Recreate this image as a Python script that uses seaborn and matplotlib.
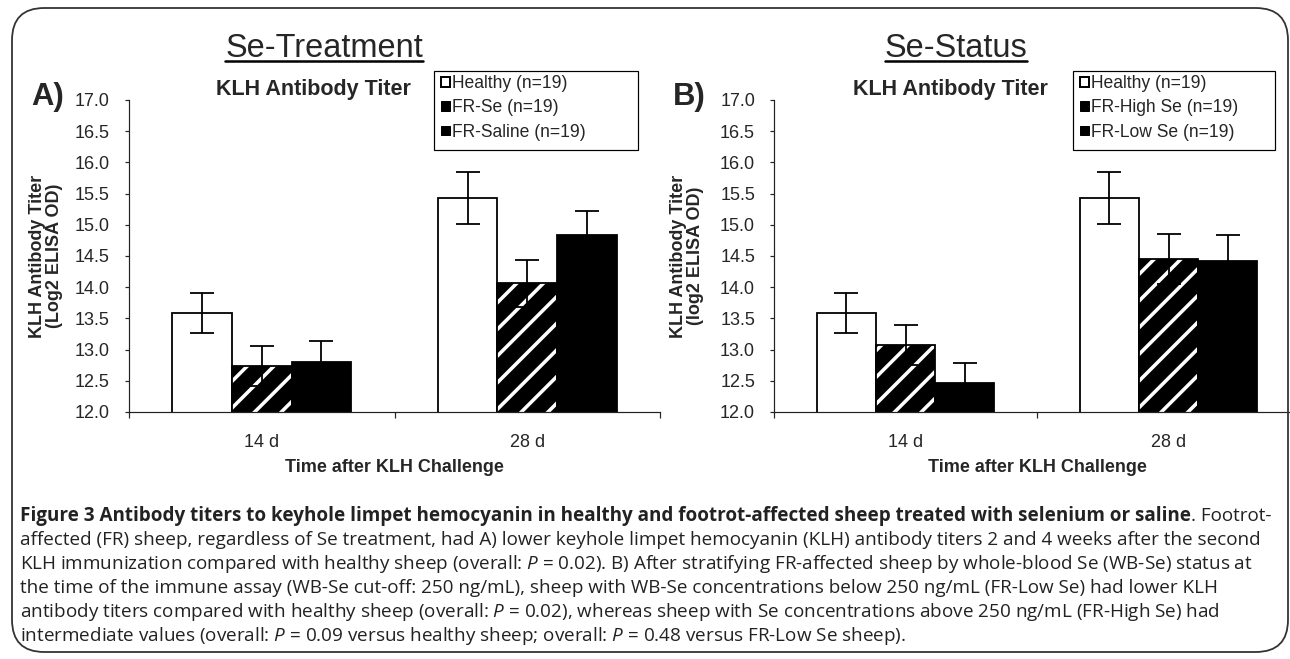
import matplotlib
matplotlib.use('Agg')
import matplotlib.pyplot as plt
import seaborn as sns
import pandas as pd
import numpy as np
from matplotlib.patches import Patch, Rectangle, FancyBboxPatch
from matplotlib.lines import Line2D

# data (log2 ELISA OD), order: [14 d, 28 d]
times = ['14 d', '28 d']
groups_a = ['Healthy (n=19)', 'FR-Se (n=19)', 'FR-Saline (n=19)']
groups_b = ['Healthy (n=19)', 'FR-High Se (n=19)', 'FR-Low Se (n=19)']

healthy = [13.58, 15.43]
fr_se = [12.74, 14.06]
fr_saline = [12.80, 14.83]
fr_high_se = [13.07, 14.45]
fr_low_se = [12.47, 14.42]

healthy_err = [0.32, 0.41]
fr_se_err = [0.32, 0.38]
fr_saline_err = [0.33, 0.39]
fr_high_se_err = [0.32, 0.40]
fr_low_se_err = [0.32, 0.41]

yticks = np.arange(12.0, 17.01, 0.5)

caption_bold = ('Figure 3 Antibody titers to keyhole limpet hemocyanin in healthy and '
                'footrot-affected sheep treated with selenium or saline')
caption_lines = [
    '. Footrot-',
    'affected (FR) sheep, regardless of Se treatment, had A) lower keyhole limpet hemocyanin (KLH) '
    'antibody titers 2 and 4 weeks after the second',
    'KLH immunization compared with healthy sheep (overall: $P$ = 0.02). B) After stratifying '
    'FR-affected sheep by whole-blood Se (WB-Se) status at',
    'the time of the immune assay (WB-Se cut-off: 250 ng/mL), sheep with WB-Se concentrations '
    'below 250 ng/mL (FR-Low Se) had lower KLH',
    'antibody titers compared with healthy sheep (overall: $P$ = 0.02), whereas sheep with Se '
    'concentrations above 250 ng/mL (FR-High Se) had',
    'intermediate values (overall: $P$ = 0.09 versus healthy sheep; overall: $P$ = 0.48 versus '
    'FR-Low Se sheep).',
]

sns.set_style('ticks')
plt.rcParams['font.family'] = ['Liberation Sans', 'DejaVu Sans']
plt.rcParams['hatch.linewidth'] = 1.6
plt.rcParams['mathtext.fontset'] = 'custom'
plt.rcParams['mathtext.rm'] = 'Open Sans'
plt.rcParams['mathtext.it'] = 'Open Sans:italic'

W, H, DPI = 1290, 659, 160
fig = plt.figure(figsize=(W / DPI, H / DPI), dpi=DPI)
fig.patch.set_facecolor('white')


def px(v):
    # pixel size -> points
    return v * 72 / DPI


def fx(x):
    return x / W


def fy(y):
    return 1 - y / H


def panel(ax, groups, series, errs):
    df = pd.DataFrame({
        'time': times * len(groups),
        'group': [g for g in groups for _ in times],
        'titer': [v for s in series for v in s],
    })
    sns.barplot(data=df, x='time', y='titer', hue='group', order=times, hue_order=groups,
                palette=['white', 'black', 'black'], saturation=1, width=0.675,
                edgecolor='black', linewidth=px(1.8), errorbar=None, legend=False, ax=ax)
    bar_conts = list(ax.containers)
    for i, cont in enumerate(bar_conts):
        xs = [p.get_x() + p.get_width() / 2 for p in cont]
        ax.errorbar(xs, series[i], yerr=errs[i], fmt='none', ecolor='black',
                    elinewidth=px(1.8), capsize=px(12), capthick=px(1.8), zorder=3)
        if i == 1:
            for p in cont:
                p.set_hatch('//')
                p.set_edgecolor('white')
                p.set_linewidth(0)
                ax.add_patch(Rectangle(p.get_xy(), p.get_width(), p.get_height(), fill=False,
                                       edgecolor='black', lw=px(1.8), zorder=p.get_zorder() + 0.1))
    ax.set_ylim(12, 17)
    ax.set_xlim(-0.5, 1.5)
    ax.set_yticks(yticks)
    ax.set_yticklabels([f'{v:.1f}' for v in yticks])
    ax.set_xticks([0, 1])
    ax.set_xticklabels(times)
    ax.set_xticks([-0.5, 0.5, 1.5], minor=True)
    ax.tick_params(axis='x', which='major', length=0, pad=px(22), labelsize=px(18))
    ax.tick_params(axis='x', which='minor', length=px(6), width=px(1.2), direction='out')
    ax.tick_params(axis='y', length=px(4), width=px(1.2), pad=px(15), labelsize=px(18),
                   direction='out')
    for s in ['top', 'right']:
        ax.spines[s].set_visible(False)
    for s in ['left', 'bottom']:
        ax.spines[s].set_linewidth(px(1.2))
        ax.spines[s].set_color('#222222')
    ax.set_ylabel('')
    ax.set_xlabel('Time after KLH Challenge', fontsize=px(18), fontweight='bold',
                  labelpad=px(8))
    ax.set_facecolor('none')


ax_a = fig.add_axes([fx(129), fy(412), fx(660 - 129), 312 / H])
ax_b = fig.add_axes([fx(774), fy(412), fx(1300 - 774), 312 / H])

panel(ax_a, groups_a, [healthy, fr_se, fr_saline], [healthy_err, fr_se_err, fr_saline_err])
panel(ax_b, groups_b, [healthy, fr_high_se, fr_low_se],
      [healthy_err, fr_high_se_err, fr_low_se_err])

# y labels
fig.text(fx(46), fy(256), 'KLH Antibody Titer\n(Log2 ELISA OD)', rotation=90, ha='center',
         va='center', fontsize=px(18), fontweight='bold', linespacing=1.05)
fig.text(fx(687), fy(256), 'KLH Antibody Titer\n(log2 ELISA OD)', rotation=90, ha='center',
         va='center', fontsize=px(18), fontweight='bold', linespacing=1.05)

# panel letters and inner titles
fig.text(fx(31), fy(97), 'A)', ha='left', va='center', fontsize=px(31), fontweight='bold')
fig.text(fx(673), fy(97), 'B)', ha='left', va='center', fontsize=px(31), fontweight='bold')
fig.text(fx(313), fy(89), 'KLH Antibody Titer', ha='center', va='center',
         fontsize=px(21.5), fontweight='bold')
fig.text(fx(950), fy(89), 'KLH Antibody Titer', ha='center', va='center',
         fontsize=px(21.5), fontweight='bold')

# underlined headers
headers = [fig.text(fx(324), fy(57), 'Se-Treatment', ha='center', va='baseline',
                    fontsize=px(32.5)),
           fig.text(fx(956), fy(57), 'Se-Status', ha='center', va='baseline',
                    fontsize=px(32.5))]

# legends with separate frames
for x0, x1, groups in [(434, 638, groups_a), (1073, 1275, groups_b)]:
    handles = [Patch(facecolor='white', edgecolor='black', linewidth=px(2)),
               Patch(facecolor='black', edgecolor='black', linewidth=px(1)),
               Patch(facecolor='black', edgecolor='black', linewidth=px(1))]
    fig.legend(handles, groups, loc='upper left', bbox_to_anchor=(fx(x0 + 7), fy(75)),
               bbox_transform=fig.transFigure, frameon=False, fontsize=px(17.5),
               handlelength=0.5, handleheight=0.5, handletextpad=0.15, labelspacing=0.42,
               borderpad=0, borderaxespad=0)
    fig.add_artist(Rectangle((fx(x0), fy(150)), fx(x1 - x0), (150 - 71) / H, fill=False,
                             edgecolor='black', lw=px(1.2), transform=fig.transFigure))

# outer rounded frame
fig.add_artist(FancyBboxPatch((fx(12), fy(652)), fx(1288 - 12), (652 - 8) / H,
                              boxstyle='round,pad=0,rounding_size=0.025', fill=False,
                              edgecolor='#333333', lw=px(1.8), transform=fig.transFigure,
                              mutation_aspect=W / H))

# caption
cap_font = dict(fontsize=px(18.9), family=['Open Sans', 'DejaVu Sans'], color='#222222')
t_bold = fig.text(fx(20), fy(521), caption_bold, ha='left', va='baseline', fontweight='bold',
                  **cap_font)
t_rest = fig.text(0, fy(521), caption_lines[0], ha='left', va='baseline', **cap_font)
for k, line in enumerate(caption_lines[1:]):
    fig.text(fx(20), fy(545 + 24 * k), line, ha='left', va='baseline', **cap_font)

fig.canvas.draw()
r = fig.canvas.get_renderer()
bb = t_bold.get_window_extent(r)
t_rest.set_x(bb.x1 / fig.bbox.width)
for t in headers:
    b = t.get_window_extent(r).transformed(fig.transFigure.inverted())
    fig.add_artist(Line2D([b.x0, b.x1], [fy(61), fy(61)], color='black', lw=px(2.5),
                          transform=fig.transFigure))

fig.savefig('out.png', dpi=DPI)
